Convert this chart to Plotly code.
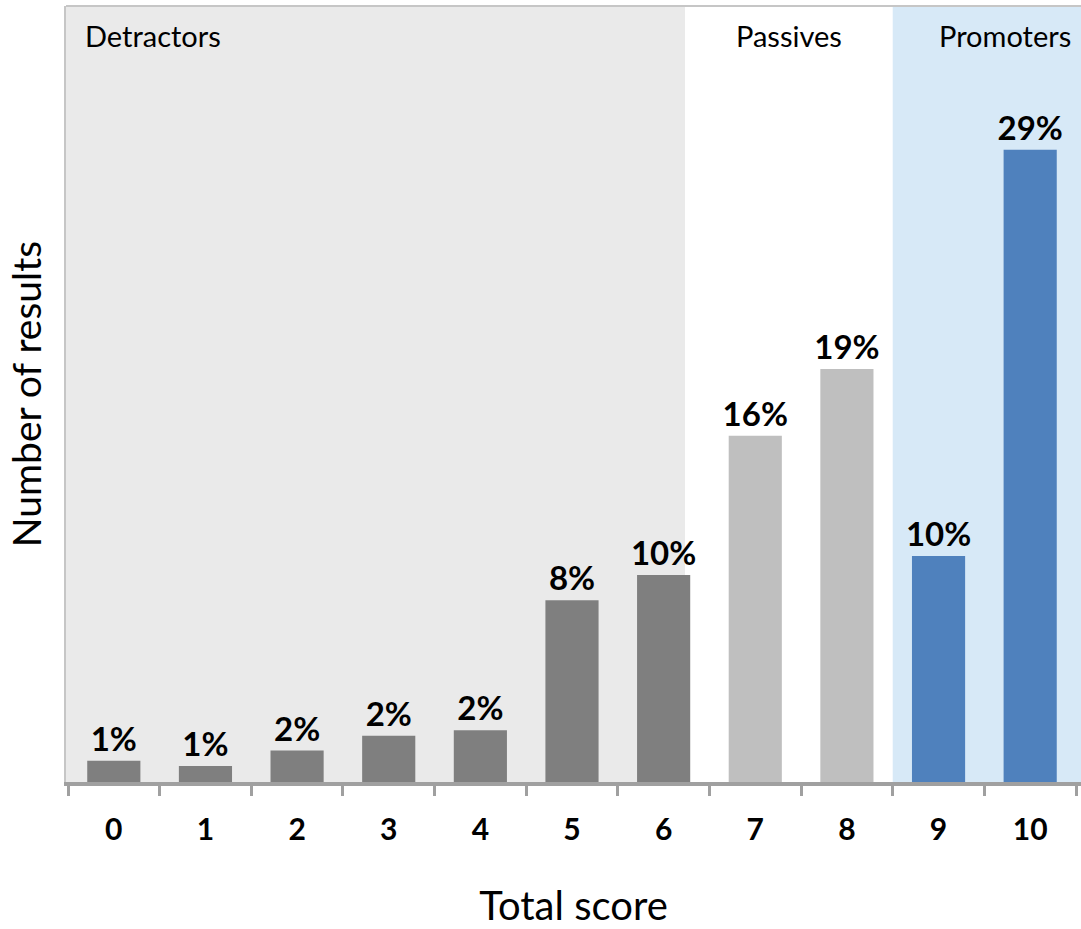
import plotly.graph_objects as go

scores = ["0", "1", "2", "3", "4", "5", "6", "7", "8", "9", "10"]
values = [0.98, 0.73, 1.44, 2.12, 2.37, 8.34, 9.5, 15.88, 18.95, 10.37, 29.0]
labels = ["1%", "1%", "2%", "2%", "2%", "8%", "10%", "16%", "19%", "10%", "29%"]
groups = ["Detractors"] * 7 + ["Passives"] * 2 + ["Promoters"] * 2
group_names = ["Detractors", "Passives", "Promoters"]

group_colors = {"Detractors": "#7f7f7f", "Passives": "#bfbfbf", "Promoters": "#4f81bd"}
bar_colors = [group_colors[g] for g in groups]

FONT = "Lato, Carlito, Calibri, sans-serif"

fig = go.Figure()
fig.add_trace(go.Bar(
    x=scores, y=values, text=labels,
    marker=dict(color=bar_colors, line=dict(width=0)),
    width=0.58,
    textposition="outside",
    constraintext="none",
    textfont=dict(family=FONT, size=33, color="black", weight="bold"),
    cliponaxis=False,
    hoverinfo="skip",
))

# background zones
fig.add_shape(type="rect", xref="x", yref="paper", x0=-1, x1=6.233, y0=0, y1=1,
              fillcolor="#eaeaea", line=dict(width=0), layer="below")
fig.add_shape(type="rect", xref="x", yref="paper", x0=8.5, x1=11, y0=0, y1=1,
              fillcolor="#d7e9f7", line=dict(width=0), layer="below")
# top border
fig.add_shape(type="line", xref="paper", yref="paper", x0=0, x1=1, y0=1, y1=1,
              line=dict(color="#c6c6c6", width=2))

# zone labels
zone_x = [0.43, 7.37, 9.72]
for name, xc in zip(group_names, zone_x):
    fig.add_annotation(x=xc, y=1, xref="x", yref="paper", text=name,
                       showarrow=False, xanchor="center", yanchor="top", yshift=-10,
                       font=dict(family=FONT, size=29, color="black"))

fig.update_layout(
    width=1081, height=929,
    margin=dict(l=66, r=0, t=6, b=147),
    plot_bgcolor="white", paper_bgcolor="white",
    showlegend=False,
    bargap=0.42,
    xaxis=dict(
        type="category",
        range=[-0.5218, 10.5546],
        showgrid=False,
        showline=True, linecolor="#a0a0a0", linewidth=4,
        ticks="outside", tickson="boundaries", ticklen=10, tickwidth=3, tickcolor="#a0a0a0",
        tickfont=dict(family=FONT, size=30, color="black", weight="bold"),
        ticklabelstandoff=18,
        title=dict(text="Total score", font=dict(family=FONT, size=40, color="black"), standoff=52),
        fixedrange=True,
    ),
    yaxis=dict(
        range=[0, 35.6],
        showgrid=False, zeroline=False,
        showticklabels=False, ticks="",
        showline=True, linecolor="#c6c6c6", linewidth=2,
        title=dict(text="Number of results", font=dict(family=FONT, size=39, color="black"), standoff=10),
        fixedrange=True,
    ),
)

fig.write_html("out.html", config={"displayModeBar": False},
               post_script="document.body.style.margin='0';document.body.style.overflow='hidden';")
